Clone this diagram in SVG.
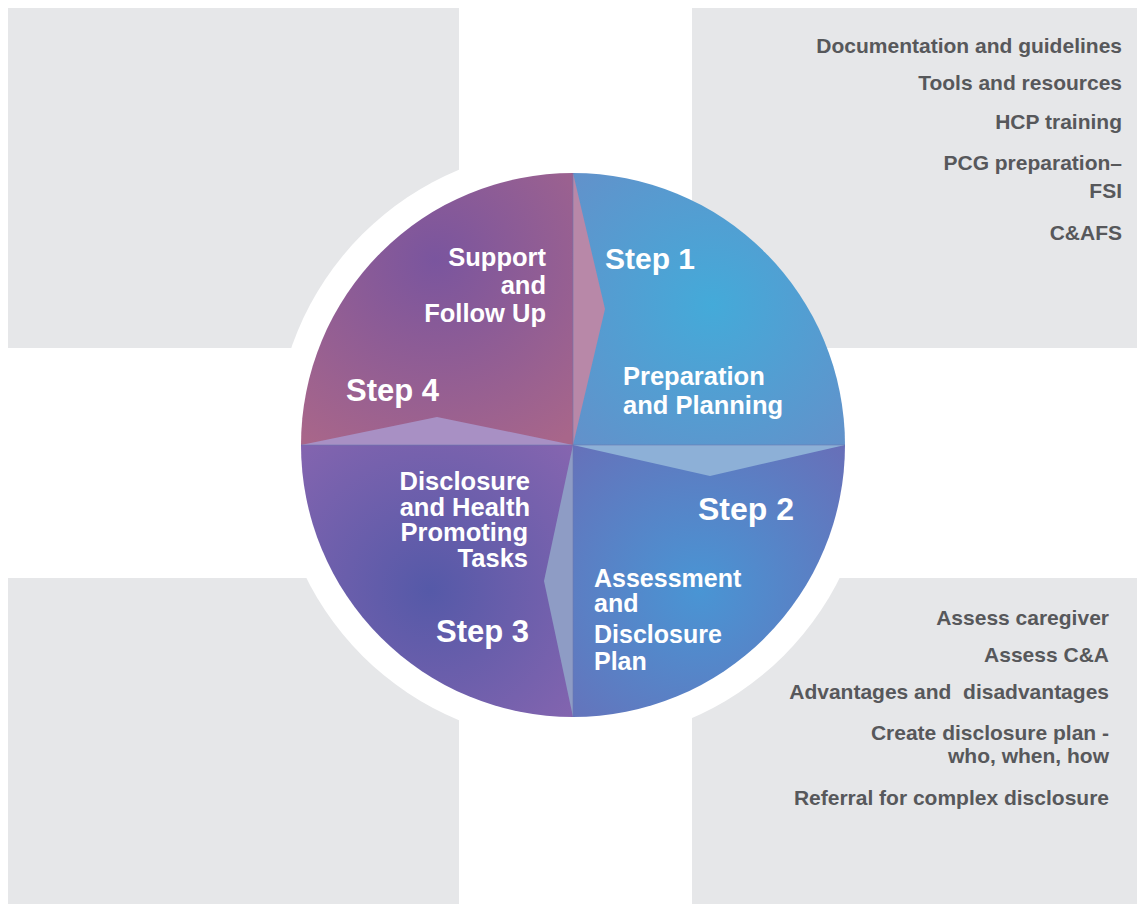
<svg xmlns="http://www.w3.org/2000/svg" width="1137" height="904" viewBox="0 0 1137 904">
<defs>
<radialGradient id="g1" gradientUnits="userSpaceOnUse" cx="712" cy="305" r="210">
<stop offset="0" stop-color="#44aad9"/><stop offset="1" stop-color="#658fc9"/>
</radialGradient>
<radialGradient id="g2" gradientUnits="userSpaceOnUse" cx="700" cy="590" r="220">
<stop offset="0" stop-color="#4995d4"/><stop offset="1" stop-color="#6a6cb6"/>
</radialGradient>
<radialGradient id="g3" gradientUnits="userSpaceOnUse" cx="430" cy="590" r="220">
<stop offset="0" stop-color="#5559a8"/><stop offset="1" stop-color="#8a66b0"/>
</radialGradient>
<radialGradient id="g4" gradientUnits="userSpaceOnUse" cx="435" cy="260" r="220">
<stop offset="0" stop-color="#7a559e"/><stop offset="1" stop-color="#a8668a"/>
</radialGradient>
<style>
.panel{fill:#e6e7e9}
.side{font-family:"Liberation Sans",Arial,sans-serif;font-weight:bold;font-size:21px;fill:#57585b;text-anchor:end}
.lab{font-family:"Liberation Sans",Arial,sans-serif;font-weight:bold;font-size:25.5px;fill:#ffffff}
.step{font-family:"Liberation Sans",Arial,sans-serif;font-weight:bold;font-size:31px;fill:#ffffff}
.end{text-anchor:end}
.div{stroke:#6a78b0;stroke-width:1;stroke-opacity:0.6;fill:none}
</style>
</defs>
<rect width="1137" height="904" fill="#ffffff"/>
<g id="panel-top-left"><rect class="panel" x="8" y="8" width="451" height="340"/></g>
<g id="panel-bottom-left"><rect class="panel" x="8" y="578" width="451" height="326"/></g>
<g id="panel-bottom-right"><rect class="panel" x="692" y="578" width="445" height="326"/></g>
<circle cx="573" cy="445" r="298" fill="#ffffff"/>
<g id="panel-top-right"><rect class="panel" x="692" y="8" width="445" height="340"/>
<text class="side" x="1122" y="53">Documentation and guidelines</text>
<text class="side" x="1122" y="90">Tools and resources</text>
<text class="side" x="1122" y="129">HCP training</text>
<text class="side" x="1122" y="170">PCG preparation–</text>
<text class="side" x="1122" y="198">FSI</text>
<text class="side" x="1122" y="240">C&amp;AFS</text>
</g>
<g id="list-bottom-right">
<text class="side" x="1109" y="625">Assess caregiver</text>
<text class="side" x="1109" y="662">Assess C&amp;A</text>
<text class="side" x="1109" y="699" xml:space="preserve">Advantages and  disadvantages</text>
<text class="side" x="1109" y="740">Create disclosure plan -</text>
<text class="side" x="1109" y="763">who, when, how</text>
<text class="side" x="1109" y="805">Referral for complex disclosure</text>
</g>
<g id="step1"><path d="M573,445 L573,173 A272,272 0 0 1 845,445 Z" fill="url(#g1)"/></g>
<g id="step2"><path d="M573,445 L845,445 A272,272 0 0 1 573,717 Z" fill="url(#g2)"/></g>
<g id="step3"><path d="M573,445 L573,717 A272,272 0 0 1 301,445 Z" fill="url(#g3)"/></g>
<g id="step4"><path d="M573,445 L301,445 A272,272 0 0 1 573,173 Z" fill="url(#g4)"/></g>
<g id="connectors">
<path d="M573,173 L605,309 L573,445 Z" fill="#b888a8"/>
<path d="M573,445 L845,445 L710,476 Z" fill="#8db0d7"/>
<path d="M573,445 L573,717 L544,581 Z" fill="#8e9cc5"/>
<path d="M301,445 L573,445 L437,417 Z" fill="#a890c4"/>
<path class="div" d="M573,173 L573,717 M301,445 L845,445"/>
</g>
<g id="step1-text">
<text class="step" x="605" y="269" style="font-size:30px">Step 1</text>
<text class="lab" x="623" y="385">Preparation</text>
<text class="lab" x="623" y="414">and Planning</text>
</g>
<g id="step2-text">
<text class="step end" x="794" y="520" style="font-size:32px">Step 2</text>
<text class="lab" x="594" y="587" style="font-size:25px">Assessment</text>
<text class="lab" x="594" y="612" style="font-size:25px">and</text>
<text class="lab" x="594" y="643" style="font-size:25px">Disclosure</text>
<text class="lab" x="594" y="670" style="font-size:25px">Plan</text>
</g>
<g id="step3-text">
<text class="lab end" x="530" y="490">Disclosure</text>
<text class="lab end" x="530" y="516">and Health</text>
<text class="lab end" x="528" y="541">Promoting</text>
<text class="lab end" x="528" y="567">Tasks</text>
<text class="step end" x="529" y="642">Step 3</text>
</g>
<g id="step4-text">
<text class="lab end" x="546" y="266">Support</text>
<text class="lab end" x="546" y="294">and</text>
<text class="lab end" x="546" y="322">Follow Up</text>
<text class="step" x="346" y="401">Step 4</text>
</g>
</svg>
